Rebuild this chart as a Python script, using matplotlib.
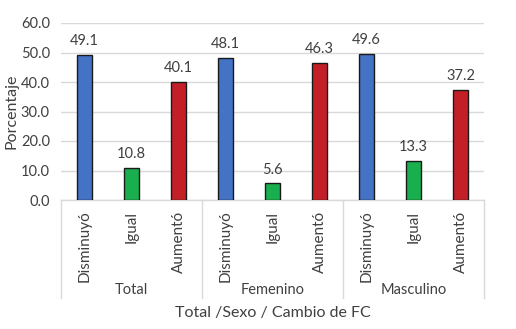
import matplotlib.pyplot as plt
import matplotlib.transforms as mtransforms

groups = ["Total", "Femenino", "Masculino"]
cambios = ["Disminuyó", "Igual", "Aumentó"]
valores = [[49.1, 10.8, 40.1],
           [48.1, 5.6, 46.3],
           [49.6, 13.3, 37.2]]
colores = ["#4472C4", "#19AF4F", "#C21F27"]

plt.rcParams['font.family'] = ['Lato', 'DejaVu Sans']

fig = plt.figure(figsize=(5.16, 3.29), dpi=100)
ax = fig.add_axes([61/516, 1 - 200/329, (484-61)/516, 177/329])

x = 0
for g, vals in enumerate(valores):
    for c, v in enumerate(vals):
        ax.bar(x, v, width=0.32, color=colores[c], edgecolor="#1a1a1a", linewidth=1, zorder=3)
        ax.annotate("%.1f" % v, (x, v), xytext=(0, 5), textcoords="offset points",
                    ha="center", va="bottom", fontsize=10.5, color="#404040")
        x += 1

ax.set_xlim(-0.5, 8.5)
ax.set_ylim(0, 60)
ax.set_yticks(range(0, 61, 10))
ax.set_yticklabels(["%.1f" % t for t in range(0, 61, 10)], fontsize=10.5, color="#404040")
ax.set_xticks([])
ax.tick_params(axis="y", length=0, pad=8)
ax.grid(axis="y", color="#D9D9D9", linewidth=1, zorder=0)
for s in ["left", "right", "top"]:
    ax.spines[s].set_visible(False)
ax.spines["bottom"].set_color("#D9D9D9")
ax.spines["bottom"].set_linewidth(1)

trans = mtransforms.blended_transform_factory(ax.transData, ax.transAxes)
for sep in [-0.5, 2.5, 5.5, 8.5]:
    ax.plot([sep, sep], [0, -0.555], transform=trans, color="#D9D9D9", linewidth=1, clip_on=False)

x = 0
for g, name in enumerate(groups):
    for c in cambios:
        ax.text(x, -0.06, c, transform=trans, rotation=90, ha="center", va="top",
                fontsize=11, color="#404040")
        x += 1
    ax.text(g*3 + 1, -0.51, name, transform=trans, ha="center", va="center",
            fontsize=10.5, color="#404040")

fig.text((61+484)/2/516, 1 - 313/329, "Total /Sexo / Cambio de FC", ha="center", va="center",
         fontsize=11.5, color="#404040")
fig.text(12/516, 1 - 111/329, "Porcentaje", rotation=90, ha="center", va="center",
         fontsize=11.5, color="#404040")

plt.savefig("out.png", dpi=100)
